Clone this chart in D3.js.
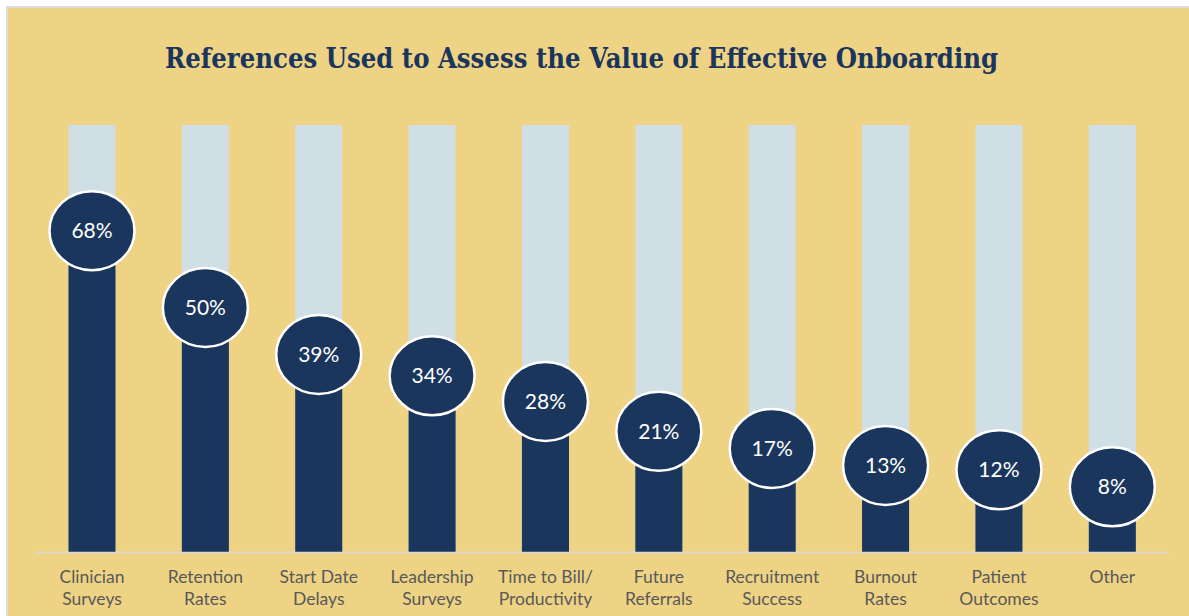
<!DOCTYPE html>
<html>
<head>
<meta charset="utf-8">
<script src="https://cdn.jsdelivr.net/npm/d3@7"></script>
<style>
  html, body { margin: 0; padding: 0; background: #ffffff; }
  svg { display: block; }
</style>
</head>
<body>
<svg id="chart" width="1189" height="616"></svg>
<script>
// Survey categories (two-line labels) and share of respondents, in percent
const categories = [
  ["Clinician", "Surveys"],
  ["Retention", "Rates"],
  ["Start Date", "Delays"],
  ["Leadership", "Surveys"],
  ["Time to Bill/", "Productivity"],
  ["Future", "Referrals"],
  ["Recruitment", "Success"],
  ["Burnout", "Rates"],
  ["Patient", "Outcomes"],
  ["Other"]
];
const values = [68, 50, 39, 34, 28, 21, 17, 13, 12, 8];
const maxValue = 100;
const title = "References Used to Assess the Value of Effective Onboarding";

const W = 1189, H = 616;
const svg = d3.select("#chart");

// Card background with a thin grey frame
svg.append("rect").attr("x", 0).attr("y", 0).attr("width", W).attr("height", H).attr("fill", "#ffffff");
svg.append("rect").attr("x", 6).attr("y", 6).attr("width", W).attr("height", H)
  .attr("fill", "#dcdcdc");
svg.append("rect").attr("x", 8).attr("y", 8).attr("width", W).attr("height", H)
  .attr("fill", "#EED384");

// Title
svg.append("text")
  .attr("x", 581.5).attr("y", 68)
  .attr("text-anchor", "middle")
  .attr("font-family", "'DejaVu Serif', 'Liberation Serif', serif")
  .attr("font-weight", "bold")
  .attr("font-size", 27.5)
  .attr("fill", "#1B365D")
  .attr("textLength", 833)
  .attr("lengthAdjust", "spacingAndGlyphs")
  .text(title);

const idx = d3.range(values.length);
const x = d3.scaleBand().domain(idx).range([35.3, 1169]).paddingInner(0.585).paddingOuter(0.2925);
const y = d3.scaleLinear().domain([0, maxValue]).range([552, 125]);

const g = svg.append("g");

// Full-height track bars
g.selectAll("rect.track").data(idx).join("rect")
  .attr("class", "track")
  .attr("x", i => x(i)).attr("width", x.bandwidth())
  .attr("y", y(maxValue)).attr("height", y(0) - y(maxValue))
  .attr("fill", "#D0DEE6");

// Value bars
g.selectAll("rect.value").data(idx).join("rect")
  .attr("class", "value")
  .attr("x", i => x(i)).attr("width", x.bandwidth())
  .attr("y", i => y(values[i])).attr("height", i => y(0) - y(values[i]))
  .attr("fill", "#1B365D");

// Baseline
svg.append("line")
  .attr("x1", 35.3).attr("x2", 1169)
  .attr("y1", y(0) + 0.5).attr("y2", y(0) + 0.5)
  .attr("stroke", "#d9d9d9").attr("stroke-width", 1.5);

// Value badges sitting on the top of each bar
const badgeLift = 31;
const badges = g.selectAll("g.badge").data(idx).join("g")
  .attr("class", "badge")
  .attr("transform", i => `translate(${x(i) + x.bandwidth() / 2},${y(values[i]) - badgeLift})`);
badges.append("ellipse")
  .attr("rx", 42.5).attr("ry", 39.5)
  .attr("fill", "#1B365D")
  .attr("stroke", "#ffffff").attr("stroke-width", 2.5);
badges.append("text")
  .attr("text-anchor", "middle")
  .attr("dy", "0.36em")
  .attr("font-family", "Lato, 'Open Sans', sans-serif")
  .attr("font-size", 21)
  .attr("fill", "#ffffff")
  .text(i => values[i] + "%");

// Category labels
const labels = svg.append("g").selectAll("text").data(idx).join("text")
  .attr("x", i => x(i) + x.bandwidth() / 2)
  .attr("y", 583)
  .attr("text-anchor", "middle")
  .attr("font-family", "Lato, 'Open Sans', sans-serif")
  .attr("font-size", 17.5)
  .attr("fill", "#595959");
labels.selectAll("tspan").data(i => categories[i]).join("tspan")
  .attr("x", function () { return d3.select(this.parentNode).attr("x"); })
  .attr("dy", (d, j) => j === 0 ? 0 : 22)
  .text(d => d);
</script>
</body>
</html>
